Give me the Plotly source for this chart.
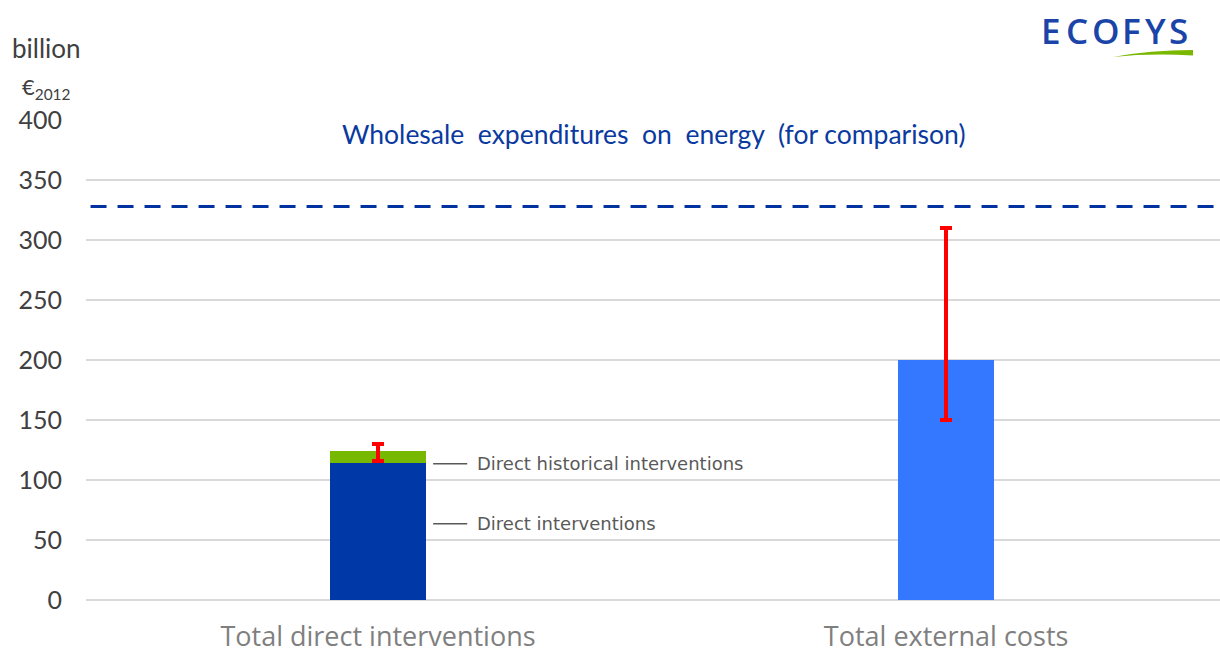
import plotly.graph_objects as go

# Werte (Mrd. €2012)
categories = ["Total direct interventions", "Total external costs"]
direct_interventions = [114, None]
historical_interventions = [10, None]
external_costs = [None, 200]
err_hist_plus = [6, 0]
err_hist_minus = [8, 0]
err_ext_plus = [0, 110]
err_ext_minus = [0, 50]
wholesale_expenditures = 328
y_ticks = [0, 50, 100, 150, 200, 250, 300, 350, 400]

FONT = "Lato, 'Open Sans', sans-serif"
BAR_W = 0.169

fig = go.Figure()

fig.add_trace(go.Bar(x=categories, y=direct_interventions, name="Direct interventions",
                     marker=dict(color="#0038a8", line=dict(width=0)), width=BAR_W))
fig.add_trace(go.Bar(x=categories, y=historical_interventions, name="Direct historical interventions",
                     marker=dict(color="#76b900", line=dict(width=0)), width=BAR_W,
                     error_y=dict(type="data", symmetric=False, array=err_hist_plus,
                                  arrayminus=err_hist_minus, color="#ff0000",
                                  thickness=4, width=6)))
fig.add_trace(go.Bar(x=categories, y=external_costs, name="Total external costs",
                     marker=dict(color="#3478ff", line=dict(width=0)), width=BAR_W,
                     error_y=dict(type="data", symmetric=False, array=err_ext_plus,
                                  arrayminus=err_ext_minus, color="#ff0000",
                                  thickness=4, width=6)))

# Gestrichelte Linie: Großhandelsausgaben für Energie
fig.add_shape(type="line", xref="paper", x0=0.004, x1=1, y0=wholesale_expenditures,
              y1=wholesale_expenditures, line=dict(color="#0033a0", width=3, dash="16px,11px"))
fig.add_annotation(text="Wholesale  expenditures  on  energy  (for comparison)",
                   xref="paper", x=0.501, y=388, showarrow=False,
                   font=dict(family=FONT, size=26.5, color="#0a3aa0"))

# Beschriftungen am linken Balken
labels = [("Direct historical interventions", 113.5), ("Direct interventions", 63.5)]
for txt, yy in labels:
    fig.add_shape(type="line", x0=0.097, x1=0.157, y0=yy, y1=yy,
                  line=dict(color="#595959", width=1.5))
    fig.add_annotation(text=txt, x=0.171, y=yy, xanchor="left", showarrow=False,
                       font=dict(family="DejaVu Sans", size=18, color="#595959"))

# Achsentitel oben links
fig.add_annotation(text="billion", xref="paper", yref="paper", x=-0.067, y=1.15,
                   xanchor="left", yanchor="middle", showarrow=False,
                   font=dict(family=FONT, size=26, color="#404040"))
fig.add_annotation(text="€<sub>2012</sub>", xref="paper", yref="paper", x=-0.058, y=1.066,
                   xanchor="left", yanchor="middle", showarrow=False,
                   font=dict(family=FONT, size=22, color="#404040"))

# Logo (Buchstaben einzeln, wegen Sperrung)
logo_x = [0.8514, 0.8743, 0.8999, 0.9220, 0.9430, 0.9638]
for ch, lx in zip("ECOFYS", logo_x):
    fig.add_annotation(text=ch, xref="paper", yref="paper", x=lx, y=1.186,
                       xanchor="center", yanchor="middle", showarrow=False,
                       font=dict(family="'Open Sans', sans-serif", size=35, weight=600, color="#1a44a8"))
fig.add_shape(type="path", xref="paper", yref="paper",
              path="M 0.9056,1.1313 Q 0.9383,1.1458 0.9762,1.1458 L 0.9762,1.1344 Q 0.9383,1.1396 0.9056,1.1313 Z",
              fillcolor="#7ab800", line=dict(width=0))

fig.update_layout(
    barmode="stack",
    width=1220, height=652,
    margin=dict(l=86, r=0, t=120, b=52),
    plot_bgcolor="white", paper_bgcolor="white",
    showlegend=False,
    bargap=0,
    font=dict(family=FONT),
)
fig.update_xaxes(range=[-0.514, 1.482], showline=False, showgrid=False, ticks="",
                 automargin=False,
                 tickfont=dict(family="'Open Sans', sans-serif", size=27, color="#7f7f7f"),
                 ticklabelstandoff=18)
fig.update_yaxes(range=[0, 400], tickvals=y_ticks, showgrid=True, gridcolor="#d9d9d9",
                 gridwidth=1.5, zeroline=True, zerolinecolor="#d9d9d9", zerolinewidth=1.5,
                 showline=False, ticks="", ticklabelstandoff=23, automargin=False,
                 tickfont=dict(family=FONT, size=25, color="#404040"))

fig.write_html("out.html", config={"displayModeBar": False},
               post_script="document.body.style.margin='0';")
